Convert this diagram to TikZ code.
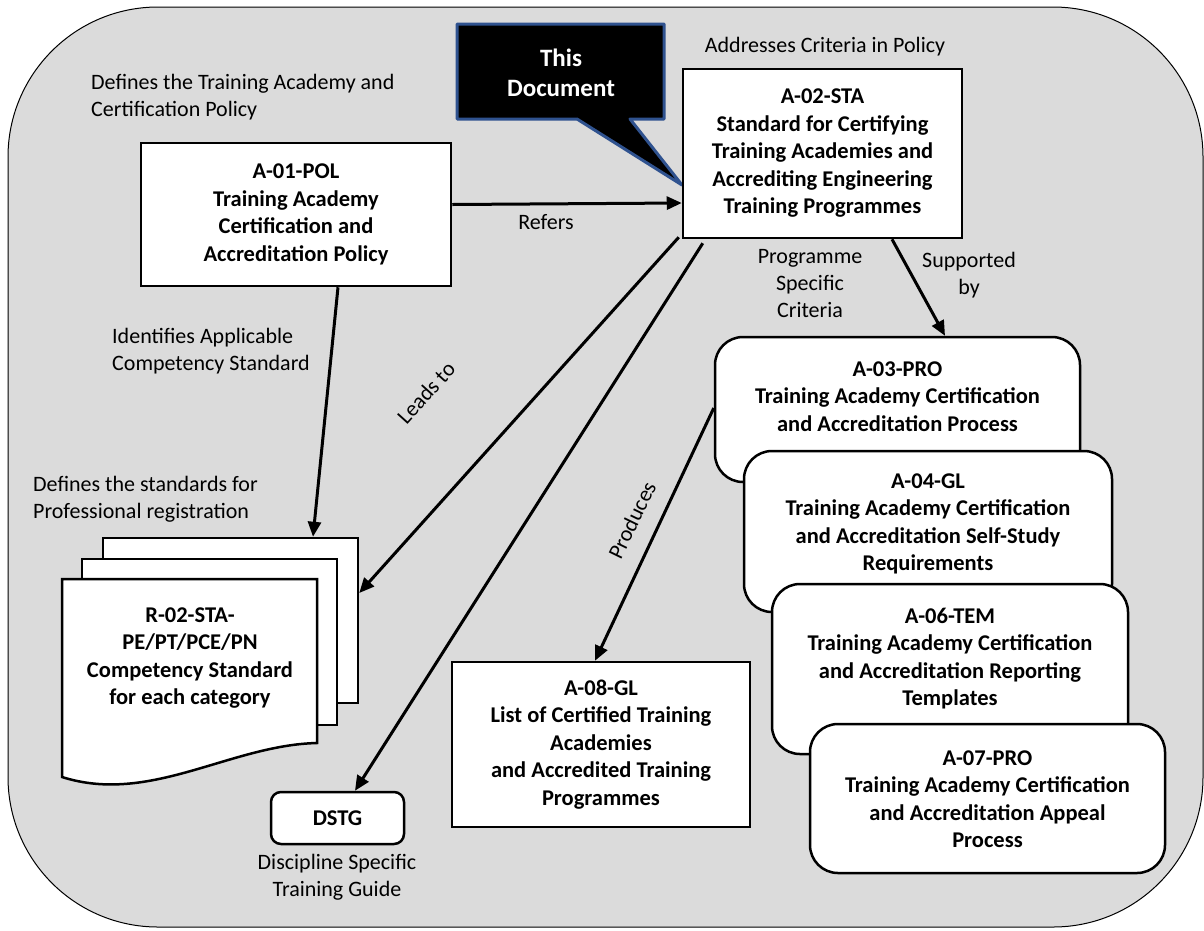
\documentclass[tikz,border=0pt]{standalone}
\usepackage{fontspec}
\setmainfont{Carlito}
\usetikzlibrary{arrows.meta}
\definecolor{bggray}{RGB}{219,219,219}
\definecolor{calloutblue}{RGB}{47,82,143}
\begin{document}
\begin{tikzpicture}[x=1pt,y=-1pt,
 box/.style={draw=black, fill=white, line width=2.5pt, inner sep=0pt},
 rbox/.style={box, rounded corners=28pt},
 btext/.style={font=\bfseries\fontsize{22.5}{27.5}\selectfont, align=center, inner sep=0pt},
 ltext/.style={font=\fontsize{22}{27}\selectfont, inner sep=0pt},
 conn/.style={line width=3pt, -{Triangle[length=15pt,width=13pt]}},
]
\useasboundingbox (0,0) rectangle (1204,930);
% background
\draw[fill=bggray, line width=1pt, rounded corners=150pt] (8,7) rectangle (1203,927);

% callout
\draw[fill=black, draw=calloutblue, line width=3pt, line join=round]
  (457,24) -- (664,24) -- (664,119) -- (630,119) -- (682,185) -- (577,119) -- (457,119) -- cycle;
\node[btext, text=white, font=\bfseries\fontsize{25}{30}\selectfont] (callout) at (561,73) {This\\Document};

% main boxes
\node[box, btext, minimum width=310pt, minimum height=143pt] (a01) at (296,214.5)
  {A-01-POL\\Training Academy\\Certification and\\Accreditation Policy};
\node[box, btext, minimum width=279pt, minimum height=169pt] (a02) at (822.5,153.5)
  {A-02-STA\\Standard for Certifying\\Training Academies and\\Accrediting Engineering\\Training Programmes};
\node[box, btext, minimum width=298pt, minimum height=165pt] (a08) at (601,744.5)
  {A-08-GL\\List of Certified Training\\Academies\\and Accredited Training\\Programmes};
\node[box, btext, rounded corners=10pt, minimum width=133pt, minimum height=52pt] (dstg) at (337.5,818) {DSTG};

% right stack of rounded boxes
\node[rbox, minimum width=365pt, minimum height=145pt] (a03) at (897.5,409.5) {};
\node[btext] (a03t) at (897.5,396.5) {A-03-PRO\\Training Academy Certification\\and Accreditation Process};
\node[rbox, minimum width=368pt, minimum height=161pt] (a04) at (928,531.5) {};
\node[btext] (a04t) at (928,524) {A-04-GL\\Training Academy Certification\\and Accreditation Self-Study\\Requirements};
\node[rbox, minimum width=356pt, minimum height=170pt] (a06) at (950,669) {};
\node[btext] (a06t) at (950,658.5) {A-06-TEM\\Training Academy Certification\\and Accreditation Reporting\\Templates};
\node[rbox, minimum width=355pt, minimum height=149pt] (a07) at (987.5,798.5) {};
\node[btext] (a07t) at (987.5,799) {A-07-PRO\\Training Academy Certification\\and Accreditation Appeal\\Process};

% document stack
\node[box, minimum width=255pt, minimum height=165pt] (docback) at (230.5,620.5) {};
\node[box, minimum width=255pt, minimum height=166pt] (docmid) at (209.5,642) {};
\draw[line width=2.5pt, fill=white, line join=miter]
  (62,579) -- (317,579) -- (317,743) .. controls (230,745) and (150,805) .. (62,777) -- cycle;
\node[btext] (r02) at (190,658) {R-02-STA-\\PE/PT/PCE/PN\\Competency Standard\\for each category};

% free labels
\node[ltext, anchor=west, align=left] (deflbl) at (91,97) {Defines the Training Academy and\\Certification Policy};
\node[ltext] (addrlbl) at (825,47) {Addresses Criteria in Policy};
\node[ltext] (reflbl) at (546,222) {Refers};
\node[ltext, align=center] (progl) at (810,284) {Programme\\Specific\\Criteria};
\node[ltext, align=center] (suplbl) at (969,275) {Supported\\by};
\node[ltext, anchor=west, align=left] (idlbl) at (112,351.5) {Identifies Applicable\\Competency Standard};
\node[ltext, anchor=west, align=left] (stdlbl) at (33,499.5) {Defines the standards for\\Professional registration};
\node[ltext, align=center] (dstglbl) at (337,877.5) {Discipline Specific\\Training Guide};
\node[ltext, rotate=48] (leadlbl) at (426,393) {Leads to};
\node[ltext, rotate=64] (prodlbl) at (632,520) {Produces};

% connectors
\draw[conn] ([yshift=10pt]a01.east) -- ([yshift=-49.5pt]a02.west);
\draw[conn] ([xshift=42pt]a01.south) -- ([xshift=82.5pt]docback.north);
\draw[conn] ([xshift=-3pt,yshift=2pt]a02.south west) -- ([yshift=27.5pt]docback.east);
\draw[conn] ([xshift=21pt,yshift=-4pt]a02.south west) -- ([xshift=17.5pt]dstg.north);
\draw[conn] ([xshift=69.5pt]a02.south) -- ([xshift=47.5pt]a03.north);
\draw[conn] ([yshift=1.5pt]a03.west) -- ([xshift=-6pt]a08.north);
\end{tikzpicture}
\end{document}
